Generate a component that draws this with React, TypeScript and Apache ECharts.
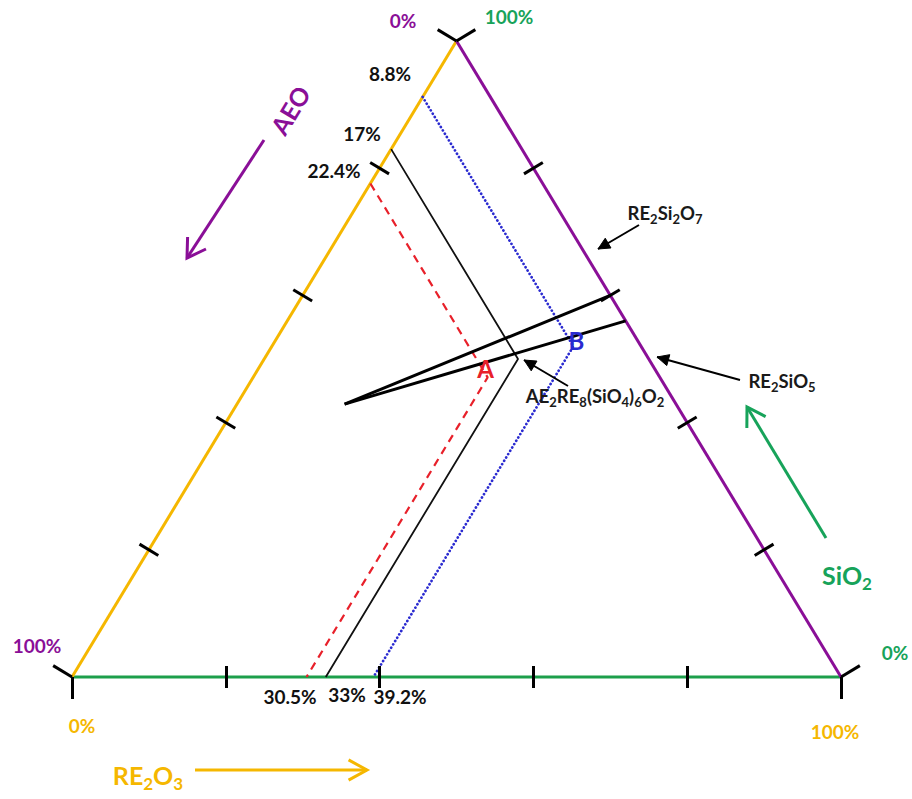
import React, { useEffect, useRef } from "react";
import * as echarts from "echarts";

const W = 912;
const H = 799;
const GRID = { left: 72, right: 71, top: 41, bottom: 122 };
const PW = W - GRID.left - GRID.right;
const PH = H - GRID.top - GRID.bottom;

// Ternary components (mol %): AEO (bottom-left), RE2O3 (bottom-right), SiO2 (top)
const componentNames = ["AEO", "RE_2O_3", "SiO_2"];
const axisTicks = [0, 20, 40, 60, 80, 100];

// Compositions (AEO, RE2O3; SiO2 = remainder)
const pointNames = ["A", "AE2RE8(SiO4)6O2", "B"];
const pointAEO = [22.4, 17, 8.8];
const pointRE2O3 = [30.5, 33, 39.2];
const aeoLabels = ["22.4%", "17%", "8.8%"];
const re2o3Labels = ["30.5%", "33%", "39.2%"];

// Tie lines
const tieOriginAEO = 43.1;
const tieOriginRE2O3 = 14.0;
const re2si2o7RE2O3 = 40; // AEO = 0
const re2sio5RE2O3 = 44; // AEO = 0

const FONT = "Lato, 'Open Sans', sans-serif";
const PURPLE = "#8a0f97";
const GOLD = "#f5b700";
const GREEN = "#1c9f4b";
const GREEN_T = "#17a35a";
const RED = "#e8202a";
const BLUE = "#2a2ad0";

const tern = (aeo: number, re: number): number[] => {
  const si = 100 - aeo - re;
  return [(re + si / 2) / 100, si / 100];
};

const L = Math.sqrt(PH * PH + (PW / 2) * (PW / 2));
const nLeft = [-PH / L, -(PW / 2) / L];
const nRight = [PH / L, -(PW / 2) / L];
const nBottom = [0, 1];

const off = (p: number[], n: number[], len: number): number[] => [
  p[0] + (n[0] * len) / PW,
  p[1] - (n[1] * len) / PH,
];

function tickSegs(pt: (t: number) => number[], n: number[]) {
  return axisTicks.map((t) => {
    const p = pt(t);
    if (t === 0 || t === 100) return { coords: [p, off(p, n, 22)] };
    return { coords: [off(p, n, -11), off(p, n, 11)] };
  });
}

const toRich = (s: string) =>
  s
    .split(/(_\d)/)
    .filter(Boolean)
    .map((t) => (t.startsWith("_") ? `{s|${t.slice(1)}}` : `{n|${t}}`))
    .join("");

function txt(
  x: number,
  y: number,
  text: string,
  size: number,
  color: string,
  weight: string,
  align = "center",
  rotation = 0
) {
  const lh = Math.round(size * 1.3);
  return {
    type: "text",
    x,
    y,
    rotation,
    z: 10,
    style: {
      text: toRich(text),
      align,
      verticalAlign: "middle",
      fill: color,
      fontSize: size,
      fontFamily: FONT,
      fontWeight: weight,
      rich: {
        n: { fill: color, fontSize: size, fontFamily: FONT, fontWeight: weight, lineHeight: lh },
        s: {
          fill: color,
          fontSize: Math.round(size * 0.68),
          fontFamily: FONT,
          fontWeight: weight,
          verticalAlign: "bottom",
        },
      },
    },
  };
}

function arrow(
  x1: number,
  y1: number,
  x2: number,
  y2: number,
  color: string,
  width: number,
  head: number,
  half: number,
  filled: boolean
) {
  const ang = Math.atan2(y2 - y1, x2 - x1);
  const h1 = [x2 + head * Math.cos(ang + Math.PI - half), y2 + head * Math.sin(ang + Math.PI - half)];
  const h2 = [x2 + head * Math.cos(ang + Math.PI + half), y2 + head * Math.sin(ang + Math.PI + half)];
  const els: any[] = [
    { type: "line", z: 10, shape: { x1, y1, x2, y2 }, style: { stroke: color, lineWidth: width } },
  ];
  if (filled) {
    els.push({ type: "polygon", z: 10, shape: { points: [h1, [x2, y2], h2] }, style: { fill: color, stroke: color, lineWidth: 1 } });
  } else {
    els.push({ type: "polyline", z: 10, shape: { points: [h1, [x2, y2], h2] }, style: { stroke: color, lineWidth: width, fill: null } });
  }
  return els;
}

export default function App() {
  const ref = useRef<HTMLDivElement>(null);
  useEffect(() => {
    if (!ref.current) return;
    const chart = echarts.init(ref.current, null, { renderer: "svg" });

    const bottomPt = (t: number) => tern(100 - t, t); // RE2O3 = t
    const leftPt = (t: number) => tern(t, 0); // AEO = t (0 at top)
    const rightPt = (t: number) => tern(0, 100 - t); // SiO2 = t

    const ticks = [
      ...tickSegs(bottomPt, nBottom),
      ...tickSegs(leftPt, nLeft),
      ...tickSegs(rightPt, nRight),
    ];

    const compStyles = [
      { color: RED, width: 2.2, type: [8, 6] },
      { color: "#111", width: 1.8, type: "solid" },
      { color: BLUE, width: 2.7, type: [0.1, 3.8], cap: "round" },
    ];

    const compSeries = pointNames.map((name, i) => ({
      type: "line",
      name,
      symbol: "none",
      silent: true,
      clip: false,
      z: 3,
      lineStyle: compStyles[i],
      data: [
        leftPt(pointAEO[i]),
        tern(pointAEO[i], pointRE2O3[i]),
        bottomPt(pointRE2O3[i]),
      ],
    }));

    const origin = tern(tieOriginAEO, tieOriginRE2O3);
    const tieSeries = [re2si2o7RE2O3, re2sio5RE2O3].map((re, i) => ({
      type: "line",
      name: i === 0 ? "RE2Si2O7 tie" : "RE2SiO5 tie",
      symbol: "none",
      silent: true,
      clip: false,
      z: 4,
      lineStyle: { color: "#000", width: 3 },
      data: [origin, tern(0, re)],
    }));

    const edge = (name: string, a: number[], b: number[], color: string) => ({
      type: "line",
      name,
      symbol: "none",
      silent: true,
      clip: false,
      z: 2,
      lineStyle: { color, width: 3 },
      data: [a, b],
    });

    chart.setOption({
      animation: false,
      backgroundColor: "#fff",
      grid: { ...GRID, containLabel: false },
      xAxis: { type: "value", min: 0, max: 1, show: false },
      yAxis: { type: "value", min: 0, max: 1, show: false },
      series: [
        edge("SiO2 = 0", bottomPt(0), bottomPt(100), GREEN),
        edge("RE2O3 = 0", leftPt(100), leftPt(0), GOLD),
        edge("AEO = 0", rightPt(0), rightPt(100), PURPLE),
        ...compSeries,
        ...tieSeries,
        {
          type: "lines",
          coordinateSystem: "cartesian2d",
          silent: true,
          clip: false,
          z: 5,
          lineStyle: { color: "#000", width: 3, opacity: 1 },
          data: ticks,
        },
      ],
    });

    const px = (p: number[]) => chart.convertToPixel({ gridIndex: 0 }, p) as number[];
    const pA = px(tern(pointAEO[0], pointRE2O3[0]));
    const pB = px(tern(pointAEO[2], pointRE2O3[2]));

    const graphics: any[] = [
      // vertex percent labels
      txt(403, 20, "0%", 19, PURPLE, "bold"),
      txt(509, 16, "100%", 19, GREEN_T, "bold"),
      txt(37, 645, "100%", 19, PURPLE, "bold"),
      txt(82, 725, "0%", 19, GOLD, "bold"),
      txt(895, 652, "0%", 19, GREEN_T, "bold"),
      txt(835, 731, "100%", 19, GOLD, "bold"),
      // AEO reading labels
      txt(390, 73, aeoLabels[2], 19, "#111", "bold"),
      txt(362, 133, aeoLabels[1], 19, "#111", "bold"),
      txt(334, 170, aeoLabels[0], 19, "#111", "bold"),
      // RE2O3 reading labels
      txt(290, 696, re2o3Labels[0], 19, "#111", "bold"),
      txt(347, 694, re2o3Labels[1], 19, "#111", "bold"),
      txt(400, 696, re2o3Labels[2], 19, "#111", "bold"),
      // component names
      txt(290, 110, componentNames[0], 25, PURPLE, "bold", "center", Math.atan2(PH, PW / 2)),
      txt(847, 575, componentNames[2], 25, GREEN_T, "bold"),
      txt(148, 775, componentNames[1], 25, GOLD, "bold"),
      // compound labels
      txt(665, 213, "RE_2Si_2O_7", 18.5, "#1a1a1a", "bold"),
      txt(782, 381, "RE_2SiO_5", 18.5, "#1a1a1a", "bold"),
      txt(595, 396, "AE_2RE_8(SiO_4)_6O_2", 18.5, "#1a1a1a", "bold"),
      // point labels
      txt(pA[0] - 2, pA[1] - 9, pointNames[0], 24, RED, "bold"),
      txt(pB[0] + 3, pB[1] - 6, pointNames[2], 24, BLUE, "bold"),
      // arrows
      ...arrow(264, 140, 187, 258, PURPLE, 3, 21, 0.55, false),
      ...arrow(826, 538, 747, 407, GREEN_T, 3, 21, 0.55, false),
      ...arrow(195, 770, 367, 770, GOLD, 3, 21, 0.5, false),
      ...arrow(639, 225, 598, 249, "#000", 2, 13, 0.45, true),
      ...arrow(740, 380, 657, 357, "#000", 2, 13, 0.45, true),
      ...arrow(568, 386, 524, 360, "#000", 2, 13, 0.45, true),
    ];

    chart.setOption({ graphic: { elements: graphics } });

    return () => chart.dispose();
  }, []);

  return (
    <div
      ref={ref}
      style={{ position: "absolute", left: 0, top: 0, width: W, height: H, background: "#fff" }}
    />
  );
}
